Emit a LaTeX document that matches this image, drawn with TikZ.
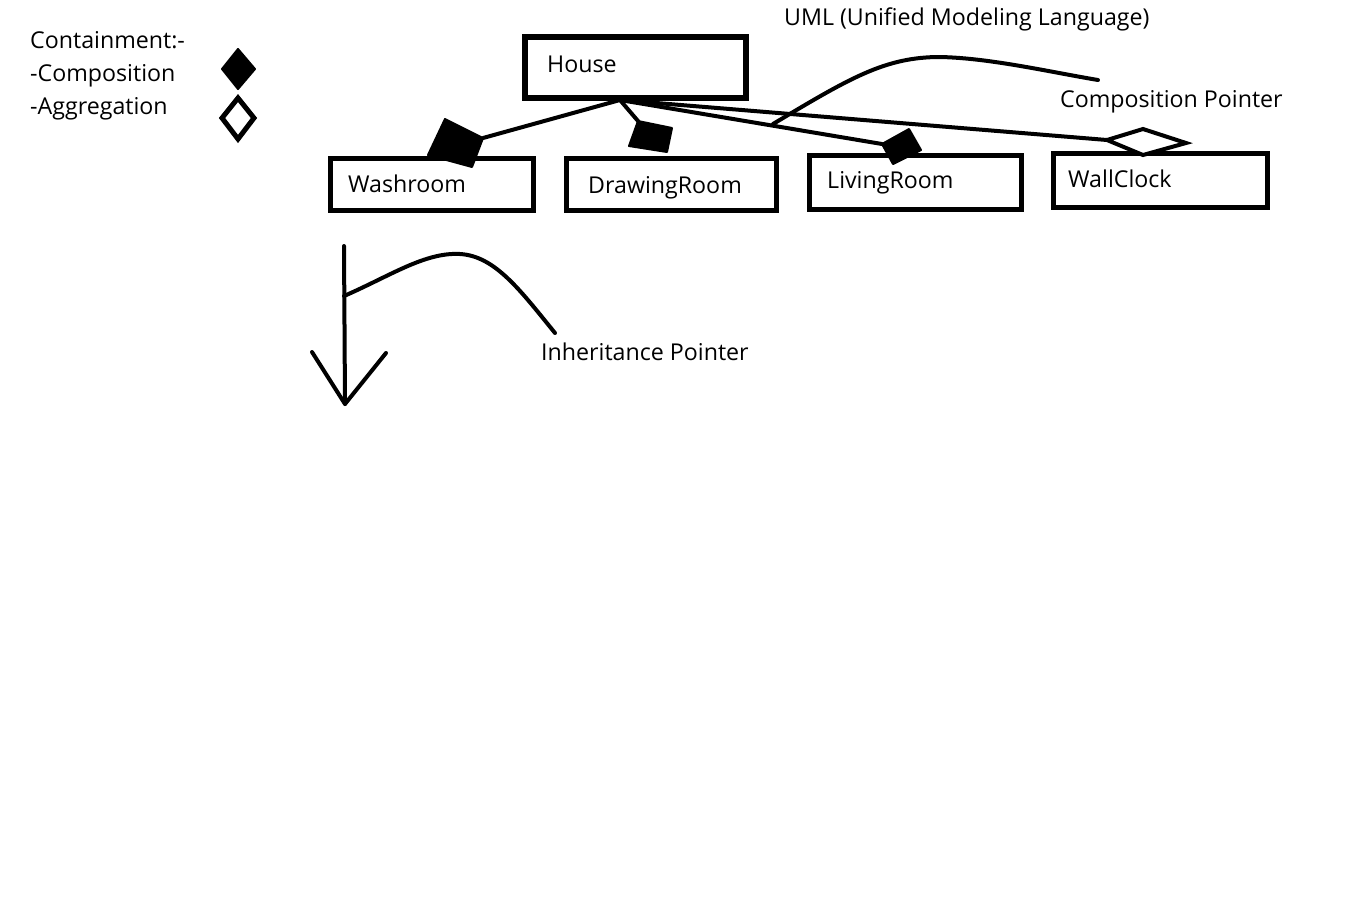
\documentclass[tikz,border=0pt]{standalone}
\usepackage{fontspec}
\setmainfont{Open Sans}
\begin{document}
\begin{tikzpicture}[x=1pt,y=-1pt,
  box/.style={draw=black,line width=5.5pt,inner sep=0pt,minimum width=#1,minimum height=56pt},
  txt/.style={inner sep=0pt,anchor=base west,font=\fontsize{23.2}{27}\selectfont},
  conn/.style={draw=black,line width=4pt,line cap=round},
  filldia/.style={fill=black,draw=black,line width=2pt,line join=round},
  hollowdia/.style={draw=black,fill=white,line width=4pt,line join=miter}]
\useasboundingbox (0,0) rectangle (1360,898);
% legend
\node[txt] (leg1) at (30,48) {Containment:-};
\node[txt] (leg2) at (30,81) {-Composition};
\node[txt] (leg3) at (30,114) {-Aggregation};
\path[filldia] (238,49) -- (255,69) -- (238,89) -- (222,69) -- cycle;
\path[hollowdia,line width=5pt] (238,98) -- (254,118) -- (238,139) -- (222,118) -- cycle;
% boxes
\node[box=221pt,minimum height=61pt] (house) at (635.5,67.5) {};
\node[txt] (houselbl) at (547,72) {House};
\node[box=203pt,minimum height=52pt] (wash) at (432,184.5) {};
\node[txt] (washlbl) at (348,192) {Washroom};
\node[box=210pt,minimum height=52pt] (draw) at (671.5,184.5) {};
\node[txt] (drawlbl) at (588,193) {DrawingRoom};
\node[box=212pt,minimum height=54pt] (living) at (915.5,182.5) {};
\node[txt] (livinglbl) at (827,188) {LivingRoom};
\node[box=214pt,minimum height=54pt] (clock) at (1160.5,180.5) {};
\node[txt] (clocklbl) at (1068,187) {WallClock};
% annotations
\node[txt] (uml) at (784,25) {UML (Unified Modeling Language)};
\node[txt] (comp) at (1060,107) {Composition Pointer};
\node[txt] (inh) at (541,360) {Inheritance Pointer};
% connectors
\coordinate (hub) at (620,100);
\coordinate (washtip) at (483,138);
\coordinate (drawtip) at (638,121);
\coordinate (livetip) at (882,144);
\coordinate (clocktip) at (1107,140);
\draw[conn] (hub) -- (washtip);
\draw[conn] (hub) -- (drawtip);
\draw[conn] (hub) -- (livetip);
\draw[conn] (hub) -- (clocktip);
\path[filldia] (445,119) -- (washtip) -- (472,167) -- (428,155) -- cycle;
\path[filldia] (drawtip) -- (672,128) -- (667,152) -- (629,146) -- cycle;
\path[filldia] (909,129) -- (921,150) -- (893,164) -- (livetip) -- cycle;
\path[hollowdia] (clocktip) -- (1143,129) -- (1186,143) -- (1143,155) -- cycle;
% UML pointer curve
\coordinate (umlstart) at (773,124);
\coordinate (umlend) at (1098,80);
\draw[conn] (umlstart) .. controls (850,78) and (885,57) .. (940,57)
  .. controls (990,58) and (1050,72) .. (umlend);
% inheritance arrow
\coordinate (arrtop) at (344,246);
\coordinate (arrtip) at (345,404);
\coordinate (arrl) at (312,352);
\coordinate (arrr) at (386,353);
\draw[conn] (arrtop) -- (arrtip);
\draw[conn,line join=round] (arrl) -- (arrtip) -- (arrr);
\coordinate (inhstart) at (344,296);
\coordinate (inhend) at (555,333);
\draw[conn] (inhstart) .. controls (390,276) and (425,252) .. (460,254)
  .. controls (495,256) and (520,290) .. (inhend);
\end{tikzpicture}
\end{document}
